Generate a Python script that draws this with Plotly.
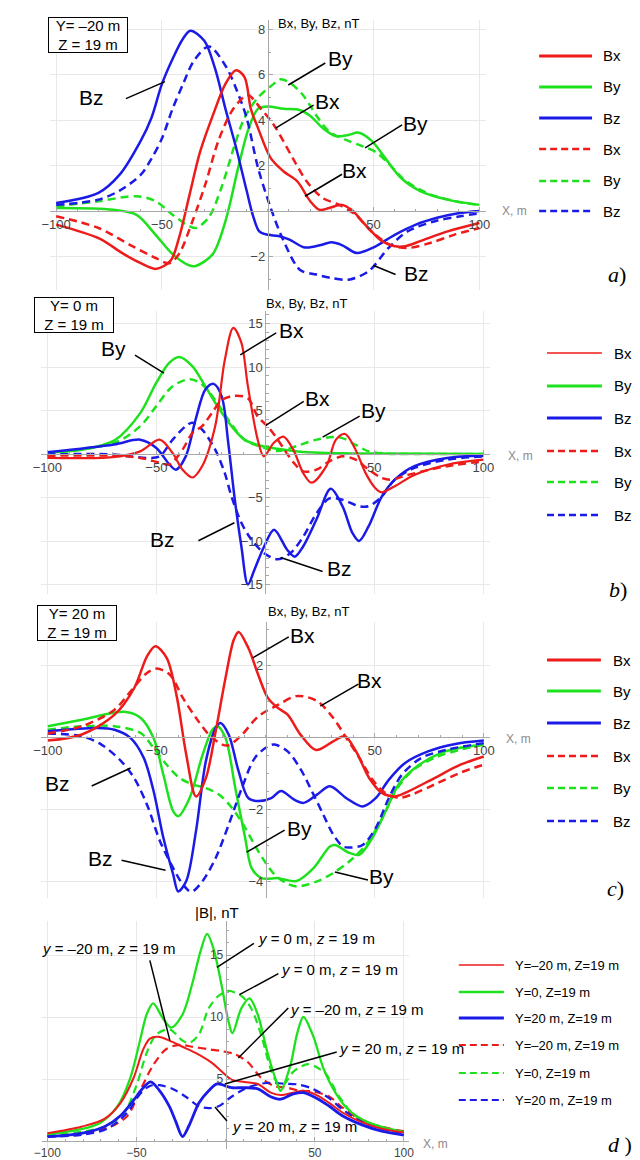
import plotly.graph_objects as go

W, H = 640, 1160
RED, GREEN, BLUE = "#ee1b1b", "#1ee11e", "#1b1be8"
DASH = "8px,5px"
FONT = "Liberation Sans, Arial, sans-serif"

# ---------------- data ----------------
# panel a : Y=-20 m
A_BX_X = [-100, -80, -68, -60, -53, -46, -42, -37, -32, -26, -20, -15, -11, -8, -4.6, 1.4, 7.4, 14, 20, 24.5, 29, 35, 39.6, 46, 54, 60, 65, 72, 85, 100]
A_BX = [-0.6, -1.2, -1.9, -2.3, -2.55, -2.2, -1.2, 0.7, 2.6, 4.2, 5.6, 6.2, 5.9, 4.5, 3.65, 2.33, 1.75, 1.3, 0.44, 0.05, 0.13, 0.27, 0.05, -0.6, -1.33, -1.55, -1.55, -1.33, -0.9, -0.53]
A_BXD_X = [-100, -80, -65, -53, -46.5, -42, -35.6, -29.6, -23.3, -17, -11, -9, -3.2, 2.8, 12, 18.4, 26, 33.8, 41.5, 49, 58, 66, 77, 88, 100]
A_BXD = [-0.23, -0.75, -1.5, -2.07, -2.3, -1.9, -0.45, 1.15, 3.1, 4.4, 5.05, 5.1, 4.5, 3.8, 2.3, 1.3, 0.57, 0.27, -0.17, -0.9, -1.5, -1.63, -1.4, -1.05, -0.75]
A_BY_X = [-100, -73, -62, -53, -45, -37, -34, -26, -20, -14, -9, -4.6, 0, 7.4, 15, 20, 26, 32, 38, 43, 49, 55.5, 63, 72, 85, 100]
A_BY = [0.13, 0.05, -0.17, -1.05, -1.9, -2.4, -2.42, -1.9, -0.45, 1.9, 3.65, 4.5, 4.6, 4.5, 4.45, 4.2, 3.65, 3.3, 3.35, 3.45, 3.1, 2.33, 1.45, 0.88, 0.5, 0.27]
A_BYD_X = [-100, -80, -62, -53, -45, -37, -34, -28, -22, -16, -11, -4.6, 2.8, 6, 10.6, 16.7, 23, 29, 37, 44.6, 51, 57, 64.6, 75, 88, 100]
A_BYD = [0.2, 0.43, 0.65, 0.43, -0.17, -0.67, -0.75, -0.3, 1.0, 2.8, 4.1, 5.0, 5.6, 5.8, 5.64, 5.1, 4.2, 3.5, 3.13, 2.86, 2.6, 2.1, 1.37, 0.8, 0.44, 0.27]
A_BZ_X = [-100, -80, -70, -60, -55, -50, -45, -40, -36.6, -30, -25, -20, -15, -10, -7, -4, 0, 5, 10, 17, 20, 25, 30, 35, 42, 50, 60, 70, 80, 90, 100]
A_BZ = [0.35, 0.8, 1.6, 3.1, 4.1, 5.6, 6.7, 7.6, 7.94, 7.5, 6.3, 4.5, 2.8, 0.9, -0.2, -0.9, -1.05, -1.1, -1.25, -1.6, -1.6, -1.5, -1.38, -1.5, -1.85, -1.6, -1.05, -0.6, -0.3, -0.1, 0.0]
A_BZD_X = [-100, -80, -70, -60, -55, -50, -45, -40, -35, -27.8, -20, -15, -10, -4.6, 1.4, 7.4, 15.3, 23, 30, 38, 47.7, 57, 66, 79, 91, 100]
A_BZD = [0.27, 0.5, 0.9, 1.6, 2.3, 3.2, 4.5, 5.6, 6.6, 7.25, 6.4, 5.4, 4.1, 1.9, 0.13, -1.3, -2.6, -2.8, -2.95, -3.03, -2.65, -1.63, -0.9, -0.45, -0.23, -0.1]

# panel b : Y=0
B_BX_X = [-100, -70, -57.4, -48.5, -42.5, -38, -33.5, -29, -23, -18.6, -14.7, -11, -8, -3.5, -0.7, 3.8, 8.3, 12.8, 17.4, 21.2, 28, 32.4, 36.6, 41.4, 46, 50.4, 53.4, 59.4, 68.4, 83.4, 100]
B_BX = [-0.45, -0.35, 0.3, 1.65, 0.1, -1.8, -2.7, -1.4, 3.2, 10.8, 14.5, 12.8, 7.8, 1.65, -0.27, 1.26, 2.0, 0.5, -2.2, -3.3, -1.4, 1.65, 2.3, 0.5, -2.2, -3.9, -4.4, -3.7, -2.4, -1.23, -0.65]
B_BXD_X = [-100, -70, -57.4, -48.5, -44, -38, -33.5, -29, -24.5, -20, -14, -8, -3.5, 1, 5, 9, 13, 17.4, 23.5, 29.4, 35.3, 41.4, 47.4, 53.4, 57.9, 65.4, 83.4, 100]
B_BXD = [-0.2, -0.2, -0.45, -1.0, -1.2, 0.5, 2.4, 3.2, 4.7, 6.2, 6.7, 6.4, 4.3, 3.2, 1.9, 0.4, -1.0, -2.0, -1.8, -0.85, -0.27, -0.65, -1.8, -2.75, -2.95, -2.4, -1.4, -0.85]
B_BY_X = [-100, -84, -69, -57.4, -50, -44, -39.5, -33.5, -27.6, -21.5, -15.5, -9.6, -3, 5.5, 15, 25, 50, 100]
B_BY = [0.2, 0.5, 1.6, 4.7, 8.2, 10.5, 11.15, 10.1, 7.8, 5.3, 3.2, 1.65, 1.0, 0.6, 0.3, 0.15, 0.05, 0.0]
B_BYD_X = [-100, -69, -57.4, -50, -42.5, -34.4, -29, -23, -17, -9.6, -0.6, 5.5, 10, 16, 23.5, 30.8, 35.3, 41.4, 47.4, 55, 70, 100]
B_BYD = [0.1, 1.3, 3.2, 5.5, 7.8, 8.6, 7.98, 6.2, 3.95, 1.65, 0.7, 0.35, 0.55, 1.06, 1.65, 1.95, 1.83, 1.06, 0.3, 0.05, 0.0, 0.0]
B_BZ_X = [-100, -69.4, -57.4, -50, -44, -41, -36.5, -32, -27.5, -23.7, -20, -17, -14, -11, -8, -5, -0.5, 4, 10, 13.5, 17.4, 23.5, 30, 35.4, 40, 43, 47.4, 53.4, 59.4, 68.4, 83.4, 100]
B_BZ = [0.2, 1.1, 1.65, 0.7, -1.2, -1.8, -0.27, 3.95, 7.4, 8.06, 6.6, 1.26, -5.25, -10.6, -15.0, -13.3, -10.6, -8.7, -11.0, -11.8, -10.6, -7.5, -4.0, -6.0, -9.1, -10.0, -8.3, -4.9, -2.95, -1.4, -0.45, -0.2]
B_BZD_X = [-100, -70, -54.4, -48.5, -42.5, -36.5, -33.5, -29, -23, -18.6, -15.5, -11, -6.5, -0.5, 5.5, 11.5, 17.4, 23.5, 29.4, 35.3, 43, 47.4, 53.4, 59.4, 68.4, 83.4, 100]
B_BZD = [-0.05, -0.05, -0.45, -0.27, 1.65, 3.2, 3.6, 2.8, 0.5, -2.2, -4.9, -7.9, -9.8, -11.4, -12.1, -11.4, -9.5, -6.8, -5.1, -5.25, -6.0, -6.0, -4.9, -2.95, -1.6, -0.65, -0.27]

# panel c : Y=20 m
C_BX_X = [-100, -84.4, -69.4, -60.4, -54.5, -50.7, -45.5, -41, -36.5, -32, -27.5, -23, -18.5, -14.7, -12.5, -8, -3.5, 1, 5.5, 10, 16, 23, 30.9, 36.2, 41.4, 47.4, 53.4, 59.4, 65.4, 77.4, 89.3, 100]
C_BX = [-0.1, 0.07, 0.62, 1.36, 2.24, 2.52, 2.2, 1.17, -0.49, -1.65, -1.14, 0.16, 1.64, 2.7, 2.92, 2.47, 1.73, 1.08, 0.81, 0.62, 0.06, -0.36, -0.12, 0.02, -0.4, -1.14, -1.56, -1.65, -1.51, -1.14, -0.77, -0.54]
C_BXD_X = [-100, -84.4, -69.4, -62, -54.5, -50, -44, -38, -32, -26, -20, -17, -11, -3.5, 5.5, 14.5, 23.5, 30.9, 37, 42.9, 48.9, 54.9, 60.9, 66.9, 77.4, 89.3, 100]
C_BXD = [0.1, 0.3, 0.76, 1.27, 1.78, 1.9, 1.73, 1.08, 0.53, 0.06, -0.21, -0.23, 0.06, 0.57, 0.89, 1.14, 1.0, 0.53, -0.03, -0.58, -1.18, -1.56, -1.69, -1.6, -1.32, -0.99, -0.77]
C_BY_X = [-100, -84.4, -65, -57.4, -51.5, -47, -42.5, -40.2, -35, -29, -24.5, -22.2, -18.5, -14, -9.5, -6.5, -2, 5.5, 8.5, 14, 21.9, 29.4, 31.7, 38.4, 42.9, 48.9, 54.9, 60.9, 68.4, 80.4, 89.3, 100]
C_BY = [0.3, 0.48, 0.7, 0.53, -0.03, -1.05, -2.06, -2.2, -1.7, -0.49, 0.2, 0.3, -0.03, -1.42, -2.8, -3.64, -3.92, -3.92, -3.96, -4.0, -3.64, -3.04, -3.0, -3.22, -3.27, -2.8, -2.07, -1.32, -0.86, -0.44, -0.3, -0.21]
C_BYD_X = [-100, -84.4, -69.4, -57.4, -51.5, -45.5, -39.5, -33.5, -27.5, -21.5, -15.5, -9.5, -3.5, 4, 10, 14.5, 23.5, 30.9, 38.4, 45.9, 53.4, 59.4, 66.9, 77.4, 89.3, 100]
C_BYD = [0.2, 0.3, 0.3, 0.11, -0.3, -0.77, -1.14, -1.32, -1.42, -1.6, -1.97, -2.52, -3.17, -3.82, -4.08, -4.15, -4.01, -3.78, -3.45, -3.0, -2.26, -1.51, -0.95, -0.58, -0.35, -0.21]
C_BZ_X = [-100, -77, -69.4, -62, -56, -51.5, -47, -42.5, -40.2, -36.5, -32, -27.5, -23, -20.8, -17, -12.5, -8, -3.5, 2.5, 7, 13, 17.4, 23.5, 29.4, 37, 44.4, 50.4, 56.4, 63.9, 74.4, 86.4, 100]
C_BZ = [0.16, 0.25, 0.2, -0.03, -0.58, -1.5, -2.8, -3.82, -4.29, -4.0, -2.6, -0.67, 0.25, 0.39, 0.06, -0.95, -1.7, -1.78, -1.7, -1.5, -1.74, -1.83, -1.6, -1.37, -1.7, -1.93, -1.7, -1.19, -0.72, -0.4, -0.2, -0.1]
C_BZD_X = [-100, -84.4, -75.4, -66.4, -60.4, -54.5, -48.5, -42.5, -38, -34.2, -29, -23, -17, -11, -5, 1, 4, 10, 16, 21.9, 26.4, 30.9, 35.4, 38.4, 44.4, 50.4, 56.4, 62.4, 71.4, 83.4, 100]
C_BZD = [0.1, 0.02, -0.21, -0.67, -1.14, -1.88, -2.9, -3.64, -4.1, -4.3, -4.0, -3.36, -2.43, -1.42, -0.58, -0.26, -0.21, -0.4, -0.9, -1.6, -2.16, -2.71, -3.04, -3.07, -3.0, -2.53, -1.7, -1.05, -0.58, -0.35, -0.17]

# panel d : |B|
D_R_X = [-100, -81, -68, -59, -51.6, -46.2, -42.5, -37.9, -31.5, -24.2, -16.9, -7.7, -2.2, 3.3, 10.6, 18, 25.3, 30.8, 38, 43.6, 51, 58.2, 65.5, 76.5, 87.5, 100]
D_R = [0.62, 1.15, 1.78, 3.06, 5.1, 7.4, 8.26, 8.4, 8.1, 7.6, 7.1, 6.3, 5.6, 4.95, 4.76, 4.6, 3.9, 3.7, 3.9, 4.05, 3.7, 3.06, 2.3, 1.5, 0.99, 0.69]
D_G_X = [-100, -81, -70, -60.8, -53.5, -48, -44.3, -40.7, -35.2, -30.6, -24.2, -18.7, -14.1, -10.4, -6.8, -2.2, 1.5, 3.8, 8.8, 13.4, 18, 23.5, 29, 30.8, 36.3, 40, 43.6, 49, 55, 62, 69, 80, 91, 100]
D_G = [0.54, 0.95, 1.5, 2.77, 5.08, 8.13, 10.2, 11.1, 9.9, 9.15, 10.2, 12.7, 15.3, 16.7, 15.5, 12.5, 9.7, 8.7, 10.7, 11.5, 10.2, 7.1, 4.6, 4.05, 6.1, 8.6, 10.0, 8.5, 5.8, 3.8, 2.5, 1.5, 1.0, 0.74]
D_B_X = [-100, -81, -68, -59, -51.6, -46.2, -42.1, -37, -31.5, -27.8, -24.2, -20.5, -15, -9.5, -4.8, 3.3, 10.6, 18, 25.3, 30.8, 38, 43.6, 51, 58.2, 65.5, 76.5, 87.5, 100]
D_B = [0.36, 0.62, 1.15, 2.04, 3.3, 4.3, 4.77, 4.05, 2.77, 1.5, 0.36, 1.25, 3.06, 4.05, 4.6, 4.3, 4.3, 4.2, 3.57, 3.37, 3.8, 3.9, 3.45, 2.8, 2.04, 1.3, 0.79, 0.48]
D_RD_X = [-100, -81, -66.3, -55.3, -48, -40.7, -33.4, -26, -18.7, -9.5, -2.2, 5.1, 12.5, 19.8, 27.1, 34.4, 41.8, 49, 58.2, 65.5, 76.5, 87.5, 100]
D_RD = [0.36, 0.54, 1.05, 2.0, 4.06, 6.1, 7.4, 7.75, 7.6, 7.4, 7.25, 7.0, 6.35, 5.1, 4.44, 4.3, 4.05, 4.0, 3.57, 2.7, 1.65, 1.15, 0.79]
D_GD_X = [-100, -81, -66.3, -57, -49.8, -44.3, -38.8, -31.5, -24.2, -20.5, -15, -9.5, -4, 1.5, 8.8, 14.3, 19.8, 25.3, 29, 32.6, 38, 46.3, 52.7, 56.3, 63.7, 72.9, 87.5, 100]
D_GD = [0.49, 0.74, 1.25, 2.27, 4.57, 7.1, 8.6, 9.0, 8.1, 7.9, 8.6, 10.7, 11.7, 12.1, 11.7, 10.7, 8.6, 5.8, 4.7, 4.57, 5.6, 6.2, 5.8, 5.4, 3.57, 2.0, 1.1, 0.79]
D_BD_X = [-100, -81, -66.3, -55.3, -48, -42.5, -37, -29.7, -22.4, -15, -9.5, -4, 3.3, 10.6, 18, 25.3, 32.6, 40, 47.3, 51, 58.2, 65.5, 76.5, 87.5, 100]
D_BD = [0.36, 0.49, 1.0, 2.27, 3.8, 4.44, 4.5, 4.2, 3.57, 2.8, 2.65, 2.8, 3.57, 4.2, 4.57, 4.7, 4.62, 4.57, 4.3, 4.05, 3.44, 2.55, 1.53, 0.99, 0.61]

X_TICKS = [-100, -50, 50, 100]
Y_TICKS = {1: [-2, 2, 4, 6, 8], 2: [-15, -10, -5, 5, 10, 15], 3: [-4, -2, 2], 4: [5, 10, 15]}
Y_MINOR = {1: 1, 2: 1, 3: 0.5, 4: 1}
BOX_TEXT = {1: "Y= \u201320 m<br>Z = 19 m", 2: "Y= 0 m<br>Z = 19 m", 3: "Y= 20 m<br>Z = 19 m"}
COMP_LABELS = ["Bx", "By", "Bz", "Bx", "By", "Bz"]
D_LABELS = ["Y=\u201320 m, Z=19 m", "Y=0, Z=19 m", "Y=20 m, Z=19 m",
            "Y=\u201320 m, Z=19 m", "Y=0, Z=19 m", "Y=20 m, Z=19 m"]

# ---------------- layout geometry (pixels) ----------------
GEO = {
    1: dict(x0=257, s=2.16, y0=203, k=22.7, top=12, bot=282, tf=13),
    2: dict(x0=254.5, s=2.225, y0=446, k=8.7, top=303, bot=586, tf=13),
    3: dict(x0=255, s=2.225, y0=729, k=36.0, top=614, bot=890, tf=13),
    4: dict(x0=214, s=1.82, y0=1133, k=12.4, top=913, bot=1141, tf=12),
}

fig = go.Figure()

def sfx(n):
    return "" if n == 1 else str(n)

def line(n, xs, ys, color, dash, width):
    fig.add_trace(go.Scatter(
        x=xs, y=ys, mode="lines",
        line=dict(color=color, width=width, dash=dash, shape="spline", smoothing=0.9),
        xaxis="x" + sfx(n), yaxis="y" + sfx(n), showlegend=False, hoverinfo="skip"))

S = "solid"
line(1, A_BY_X, A_BY, GREEN, S, 2.5); line(1, A_BYD_X, A_BYD, GREEN, DASH, 2.5)
line(1, A_BZ_X, A_BZ, BLUE, S, 2.5); line(1, A_BZD_X, A_BZD, BLUE, DASH, 2.5)
line(1, A_BX_X, A_BX, RED, S, 2.5); line(1, A_BXD_X, A_BXD, RED, DASH, 2.5)

line(2, B_BY_X, B_BY, GREEN, S, 2.5); line(2, B_BYD_X, B_BYD, GREEN, DASH, 2.5)
line(2, B_BZ_X, B_BZ, BLUE, S, 2.5); line(2, B_BZD_X, B_BZD, BLUE, DASH, 2.5)
line(2, B_BX_X, B_BX, RED, S, 2.2); line(2, B_BXD_X, B_BXD, RED, DASH, 2.5)

line(3, C_BY_X, C_BY, GREEN, S, 2.5); line(3, C_BYD_X, C_BYD, GREEN, DASH, 2.5)
line(3, C_BZ_X, C_BZ, BLUE, S, 2.5); line(3, C_BZD_X, C_BZD, BLUE, DASH, 2.5)
line(3, C_BX_X, C_BX, RED, S, 2.5); line(3, C_BXD_X, C_BXD, RED, DASH, 2.5)

line(4, D_GD_X, D_GD, GREEN, DASH, 2.2); line(4, D_RD_X, D_RD, RED, DASH, 2.2)
line(4, D_BD_X, D_BD, BLUE, DASH, 2.2)
line(4, D_G_X, D_G, GREEN, S, 2.3); line(4, D_R_X, D_R, RED, S, 2.0)
line(4, D_B_X, D_B, BLUE, S, 2.8)

layout = dict(width=W, height=H, margin=dict(l=0, r=0, t=0, b=0),
              paper_bgcolor="white", plot_bgcolor="white", showlegend=False,
              font=dict(family=FONT, color="#222"))

GRID = "#e8e8e8"
AX = "#a8a8a8"
for n, g in GEO.items():
    tickf = dict(family=FONT, size=g["tf"], color="#444")
    xl = g["x0"] - 103 * g["s"]
    xr = g["x0"] + 103 * g["s"]
    ytop = (g["y0"] - g["top"]) / g["k"]
    ybot = (g["y0"] - g["bot"]) / g["k"]
    layout["xaxis" + sfx(n)] = dict(
        domain=[xl / W, xr / W], range=[-103, 103], anchor="free",
        position=1 - g["y0"] / H, tickmode="array", tickvals=X_TICKS,
        showgrid=True, gridcolor=GRID, gridwidth=1, zeroline=False,
        showline=True, linecolor=AX, linewidth=1, ticks="inside", ticklen=4,
        tickcolor=AX, tickfont=tickf, ticklabelstandoff=1,
        minor=dict(tickmode="array", tickvals=list(range(-100, 101, 10)), ticks="inside",
                   ticklen=2.5, tickcolor=AX, showgrid=False))
    step = Y_MINOR[n]
    mv = []
    v = int(ybot / step) * step
    while v <= ytop:
        mv.append(round(v, 3))
        v += step
    layout["yaxis" + sfx(n)] = dict(
        domain=[1 - g["bot"] / H, 1 - g["top"] / H], range=[ybot, ytop], anchor="free",
        position=g["x0"] / W, tickmode="array", tickvals=Y_TICKS[n],
        showgrid=True, gridcolor=GRID, gridwidth=1, zeroline=False,
        showline=True, linecolor=AX, linewidth=1, ticks="inside", ticklen=4,
        tickcolor=AX, tickfont=tickf,
        minor=dict(tickmode="array", tickvals=mv, ticks="inside", ticklen=2.5,
                   tickcolor=AX, showgrid=False))

fig.update_layout(**layout)

def P(px, py):
    return px / W, 1 - py / H

ann = []
shapes = []

def text(px, py, t, size=21, anchor="center", color="black", family=FONT, **kw):
    x, y = P(px, py)
    ann.append(dict(x=x, y=y, xref="paper", yref="paper", text=t, showarrow=False,
                    xanchor=anchor, yanchor="middle",
                    font=dict(size=size, color=color, family=family), **kw))

# boxes
BOX_POS = {1: (73, 27.5), 2: (59.5, 307), 3: (62, 614.5)}
for n, (bx, by) in BOX_POS.items():
    text(bx, by, BOX_TEXT[n], size=15, bordercolor="black", borderwidth=1,
         bgcolor="white", width=78, height=34, borderpad=0)

# axis titles
text(265, 15, "Bx, By, Bz, nT", size=13, anchor="left")
text(253, 295, "Bx, By, Bz, nT", size=13, anchor="left")
text(255, 603, "Bx, By, Bz, nT", size=13, anchor="left")
text(181, 904, "|B|, nT", size=15, anchor="left")
text(494, 203, "X, m", size=12, anchor="left", color="#8a8a8a")
text(500, 448, "X, m", size=12, anchor="left", color="#8a8a8a")
text(498, 731, "X, m", size=12, anchor="left", color="#8a8a8a")
text(413, 1136, "X, m", size=12, anchor="left", color="#8a8a8a")

# panel letters
SERIF = "Liberation Serif, Times New Roman, serif"
text(613, 267, "<i>a</i>)", size=22, family=SERIF)
text(614, 581, "<i>b</i>)", size=22, family=SERIF)
text(612, 880, "<i>c</i>)", size=22, family=SERIF)
text(617, 1136, "<i>d</i> )", size=22, family=SERIF)

def callout(n, xd, yd, tail, point):
    shapes.append(dict(type="line", xref="x" + sfx(n), yref="y" + sfx(n),
                       xsizemode="pixel", ysizemode="pixel", xanchor=xd, yanchor=yd,
                       x0=0, y0=0, x1=tail[0] - point[0], y1=point[1] - tail[1],
                       line=dict(color="black", width=1.5)))

CALLOUTS = [
    (1, -48.6, 5.7, (113, 91), (152, 74), "Bz", (77, 89)),
    (1, 9.7, 5.55, (315, 55), (278, 77), "By", (331, 50)),
    (1, 3.7, 3.65, (303, 97), (265, 120), "Bx", (318, 93)),
    (1, 46, 2.78, (394, 117), (357, 140), "By", (408, 115)),
    (1, 17.6, 0.65, (332, 166), (295, 188), "Bx", (346, 163)),
    (1, 50, -2.4, (387, 267), (365, 258), "Bz", (409, 265)),
    (2, -46.5, 9.3, (122, 347), (151, 365), "By", (100, 340)),
    (2, -11.5, 11.4, (265, 325), (229, 347), "Bx", (281, 322)),
    (2, 0.2, 3.3, (293, 393), (255, 417), "Bx", (308, 390)),
    (2, 26.3, 1.95, (350, 408), (313, 429), "By", (365, 403)),
    (2, -14.2, -7.9, (187, 533), (223, 515), "Bz", (150, 532)),
    (2, 7.0, -11.9, (312, 563), (270, 549), "Bz", (330, 560)),
    (3, -6.0, 2.2, (277, 628), (241, 649), "Bx", (292, 627)),
    (3, 25.0, 0.86, (348, 676), (310, 698), "Bx", (361, 672)),
    (3, -62.0, -0.86, (78, 778), (117, 760), "Bz", (42, 775)),
    (3, -46.0, -3.7, (108, 852), (152, 862), "Bz", (86, 850)),
    (3, -8.8, -3.2, (273, 823), (235, 845), "By", (289, 820)),
    (3, 31.7, -3.75, (358, 872), (325, 864), "By", (373, 868)),
]
for n, xd, yd, tail, point, lab, tpos in CALLOUTS:
    callout(n, xd, yd, tail, point)
    text(tpos[0], tpos[1], lab, size=21)

YZ20M = "<i>y</i> = \u201320 m, <i>z</i> = 19 m"
YZ0 = "<i>y</i> = 0 m, <i>z</i> = 19 m"
YZ20 = "<i>y</i> = 20 m, <i>z</i> = 19 m"
D_CALLOUTS = [
    (-31.3, 8.11, (137, 952), (157, 1032), YZ20M, (25, 940)),
    (-4.9, 14.0, (242, 935), (205, 959), YZ0, (245, 930)),
    (7.7, 11.8, (267, 966), (228, 987), YZ0, (268, 961)),
    (7.1, 6.7, (277, 1000), (227, 1050), YZ20M, (278, 1001)),
    (-0.5, 4.6, (325, 1044), (213, 1076), YZ20, (328, 1040)),
    (-6.0, 2.75, (215, 1113), (203, 1099), YZ20, (218, 1118)),
]
for xd, yd, tail, point, lab, tpos in D_CALLOUTS:
    callout(4, xd, yd, tail, point)
    text(tpos[0], tpos[1], lab, size=15, anchor="left")

# legends
COLORS6 = [RED, GREEN, BLUE, RED, GREEN, BLUE]
LEGENDS = [
    dict(x0=534, x1=588, tx=597, rows=[48, 79, 110, 141, 173, 203], w=[3, 3, 3, 2.5, 2.5, 2.5], labels=COMP_LABELS, size=15),
    dict(x0=542, x1=598, tx=608, rows=[345, 378, 410, 443, 474, 507], w=[1.5, 3, 3, 2.5, 2.5, 2.5], labels=COMP_LABELS, size=15),
    dict(x0=542, x1=597, tx=607, rows=[652, 683, 715, 748, 780, 813], w=[3, 3, 3, 2.5, 2.5, 2.5], labels=COMP_LABELS, size=15),
    dict(x0=452, x1=498, tx=507, rows=[957, 984, 1010, 1037, 1065, 1092], w=[1.5, 2.5, 3, 2, 2, 2], labels=D_LABELS, size=13),
]
for L in LEGENDS:
    for i, ry in enumerate(L["rows"]):
        x0, y0 = P(L["x0"], ry)
        x1, _ = P(L["x1"], ry)
        shapes.append(dict(type="line", xref="paper", yref="paper", x0=x0, x1=x1, y0=y0, y1=y0,
                           line=dict(color=COLORS6[i], width=L["w"][i],
                                     dash="solid" if i < 3 else "7px,4px")))
        text(L["tx"], ry, L["labels"][i], size=L["size"], anchor="left")

fig.update_layout(annotations=ann, shapes=shapes)
fig.write_html("out.html")
